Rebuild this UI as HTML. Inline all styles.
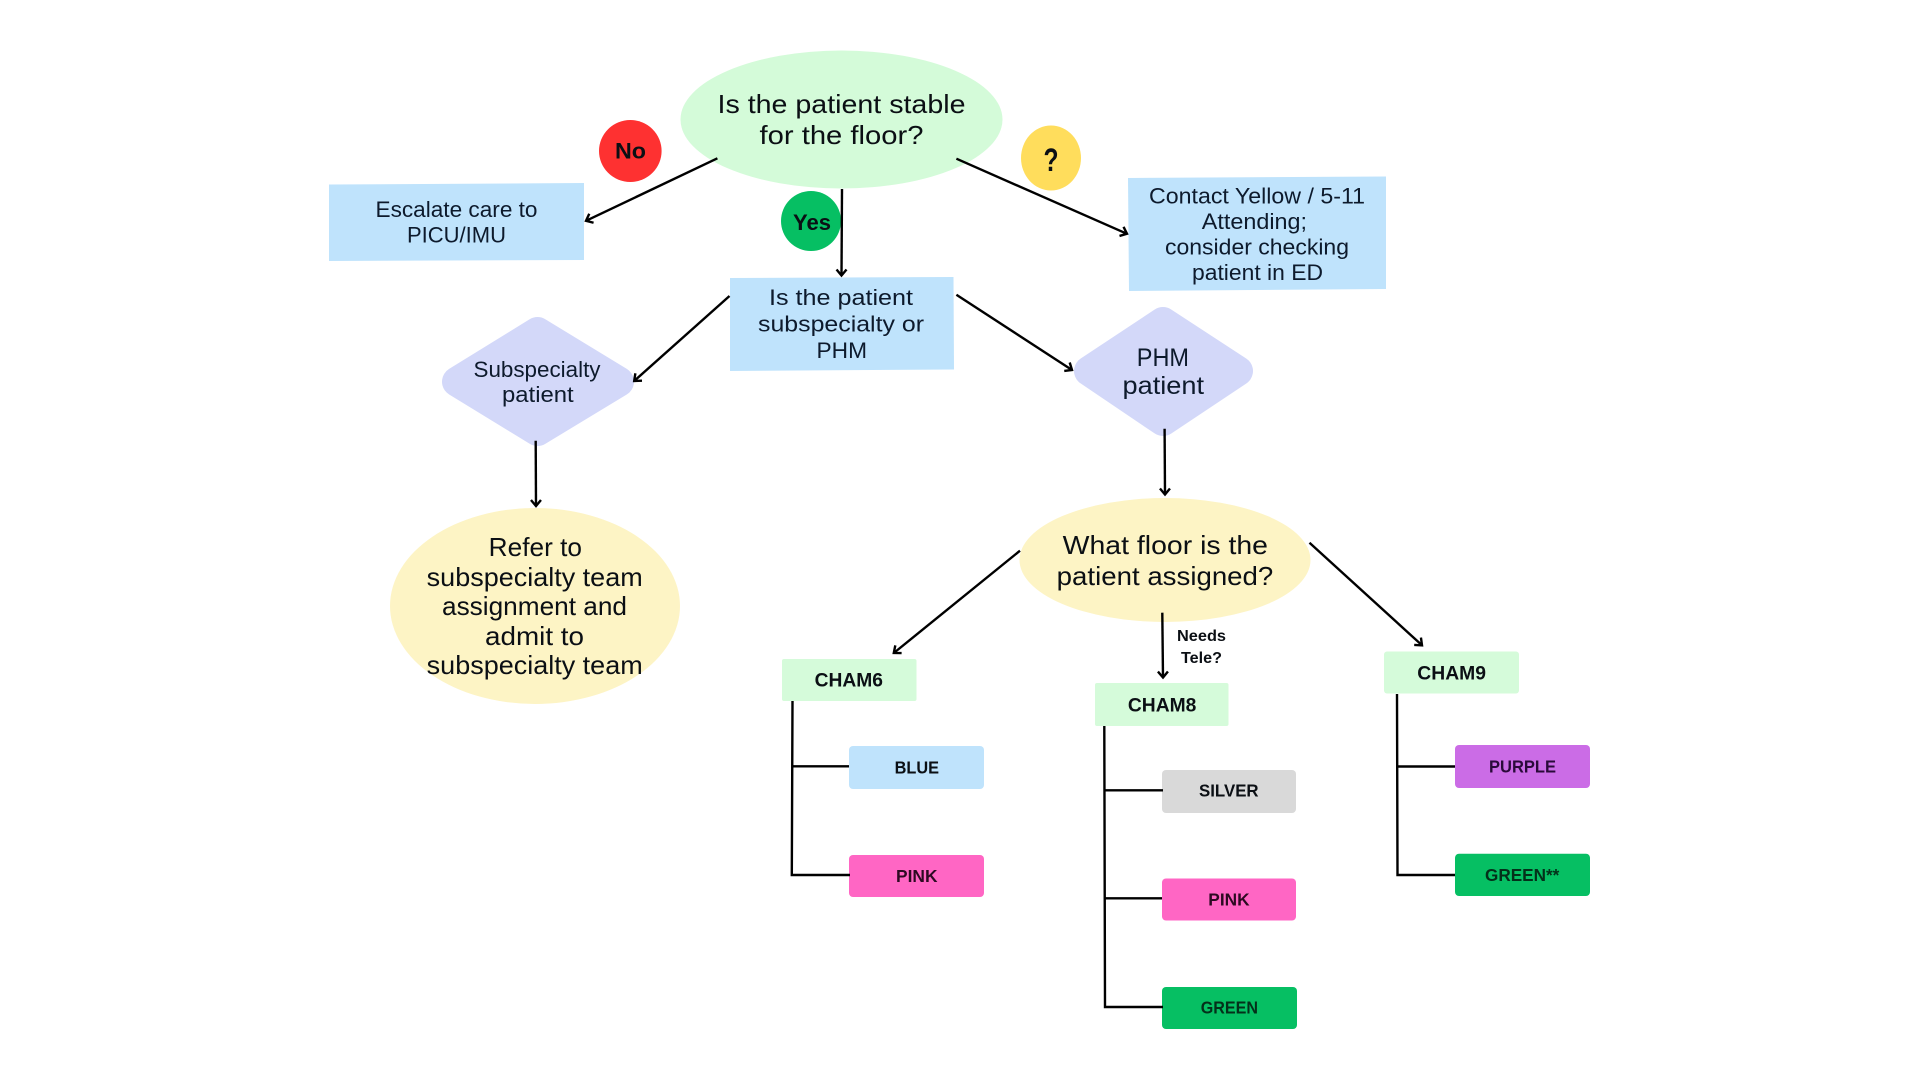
<!DOCTYPE html>
<html>
<head>
<meta charset="utf-8">
<title>Patient floor assignment flowchart</title>
<style>
html,body{margin:0;padding:0;background:#fff;width:1920px;height:1080px;overflow:hidden}
svg{display:block}
text{font-family:"Liberation Sans",sans-serif;text-anchor:start;fill:#0b0f14}
.r{font-size:26px}
.m{font-size:22px}
.b{font-weight:bold}
.n{fill:#0d1a2c}
.l{stroke:#000;stroke-width:2.4;fill:none}
.a{stroke:#000;stroke-width:2.4;fill:none;marker-end:url(#h)}
</style>
</head>
<body>
<svg width="1920" height="1080" viewBox="0 0 1920 1080" xmlns="http://www.w3.org/2000/svg">
<defs>
<marker id="h" markerUnits="userSpaceOnUse" markerWidth="14" markerHeight="14" refX="9" refY="6" orient="auto" viewBox="0 0 14 14">
<path d="M3,1 L9,6 L3,11" fill="none" stroke="#000" stroke-width="2.400"/>
</marker>
</defs>
<rect width="1920" height="1080" fill="#fff"/>

<!-- nodes -->
<ellipse cx="841.500" cy="119.500" rx="161" ry="69" fill="#d4fbd9"/>
<ellipse cx="630.300" cy="151" rx="31.300" ry="31" fill="#fe3131"/>
<ellipse cx="811" cy="221" rx="30" ry="30" fill="#06bf63"/>
<ellipse cx="1051" cy="158" rx="30" ry="32.500" fill="#ffdd5c"/>

<polygon points="329,184.500 584,183 584,260 329,261" fill="#bfe3fc"/>
<polygon points="730,278 953.500,277 954,369.500 730,371" fill="#bfe3fc"/>
<polygon points="1128,178 1386,176.500 1386,289 1129,291" fill="#bfe3fc"/>

<polygon points="457,381.700 537.500,332 619,381.700 537.500,431" fill="#d3d8f9" stroke="#d3d8f9" stroke-width="30" stroke-linejoin="round"/>
<polygon points="1089,371 1163,322 1238,371 1163,421" fill="#d3d8f9" stroke="#d3d8f9" stroke-width="30" stroke-linejoin="round"/>

<ellipse cx="535" cy="606" rx="145" ry="98" fill="#fdf4c5"/>
<ellipse cx="1165" cy="560" rx="145.500" ry="62" fill="#fdf4c5"/>

<rect x="782" y="659" width="134.500" height="42" rx="2" fill="#d5fbda"/>
<rect x="1095" y="683" width="133.500" height="43" rx="2" fill="#d5fbda"/>
<rect x="1384" y="651.500" width="135" height="42" rx="3" fill="#d5fbda"/>

<rect x="849" y="746" width="135" height="43" rx="4" fill="#bfe3fc"/>
<rect x="849" y="855" width="135" height="42" rx="4" fill="#ff66c4"/>
<rect x="1162" y="770" width="134" height="43" rx="4" fill="#d9d9d9"/>
<rect x="1162" y="878.500" width="134" height="42" rx="4" fill="#ff66c4"/>
<rect x="1162" y="987" width="135" height="42" rx="4" fill="#06bf63"/>
<rect x="1455" y="745" width="135" height="43" rx="4" fill="#cb6ce6"/>
<rect x="1455" y="853.700" width="135" height="42.300" rx="4" fill="#06bf63"/>

<!-- connectors -->
<line class="a" x1="717.400" y1="158.300" x2="586" y2="220.800"/>
<line class="a" x1="842" y1="189" x2="841.500" y2="275.500"/>
<line class="a" x1="956.400" y1="158.700" x2="1127" y2="233.800"/>
<line class="a" x1="729.500" y1="296" x2="634.200" y2="381"/>
<line class="a" x1="956.400" y1="294.700" x2="1072" y2="370"/>
<line class="a" x1="535.700" y1="440.700" x2="536" y2="506"/>
<line class="a" x1="1164.600" y1="428.700" x2="1165" y2="494.500"/>
<line class="a" x1="1020" y1="550.700" x2="893.800" y2="653"/>
<line class="a" x1="1162.300" y1="612.700" x2="1163" y2="677.500"/>
<line class="a" x1="1309.500" y1="542.700" x2="1422" y2="645.300"/>

<path class="l" d="M792.500,701 L791.800,875 L850,875 M792,766.300 L849,766.300"/>
<path class="l" d="M1104.300,726 L1105,1007 L1163,1007 M1105,790.300 L1163,790.300 M1105,898.300 L1162,898.300"/>
<path class="l" d="M1397,694 L1397.500,875 L1455,875 M1397.500,766.500 L1455,766.500"/>

<!-- labels -->
<text class="r" x="717.500" y="113" textLength="248" lengthAdjust="spacingAndGlyphs">Is the patient stable</text>
<text class="r" x="759.500" y="144" textLength="164" lengthAdjust="spacingAndGlyphs">for the floor?</text>

<text class="b" font-size="22" x="615" y="158.500" textLength="31" lengthAdjust="spacingAndGlyphs">No</text>
<text class="b" font-size="22" x="793" y="230" textLength="38" lengthAdjust="spacingAndGlyphs">Yes</text>
<text class="b" font-size="32" x="1043.500" y="171" textLength="15" lengthAdjust="spacingAndGlyphs">?</text>

<text class="m n" x="375.500" y="217" textLength="162" lengthAdjust="spacingAndGlyphs">Escalate care to</text>
<text class="m n" x="407" y="242.700" textLength="99" lengthAdjust="spacingAndGlyphs">PICU/IMU</text>

<text class="m n" x="769" y="305" textLength="144" lengthAdjust="spacingAndGlyphs">Is the patient</text>
<text class="m n" x="758" y="331.700" textLength="166" lengthAdjust="spacingAndGlyphs">subspecialty or</text>
<text class="m n" x="816.500" y="358" textLength="50.500" lengthAdjust="spacingAndGlyphs">PHM</text>

<text class="m n" x="1149" y="203.700" textLength="216" lengthAdjust="spacingAndGlyphs">Contact Yellow / 5-11</text>
<text class="m n" x="1201.800" y="229" textLength="105.200" lengthAdjust="spacingAndGlyphs">Attending;</text>
<text class="m n" x="1165" y="254.500" textLength="184" lengthAdjust="spacingAndGlyphs">consider checking</text>
<text class="m n" x="1192" y="280" textLength="131" lengthAdjust="spacingAndGlyphs">patient in ED</text>

<text class="m n" x="473.500" y="377" textLength="127" lengthAdjust="spacingAndGlyphs">Subspecialty</text>
<text class="m n" x="502" y="402" textLength="71.700" lengthAdjust="spacingAndGlyphs">patient</text>

<text font-size="25" class="n" x="1136.800" y="366" textLength="52.200" lengthAdjust="spacingAndGlyphs">PHM</text>
<text font-size="25" class="n" x="1122.500" y="394" textLength="81.500" lengthAdjust="spacingAndGlyphs">patient</text>

<text class="r" x="488.700" y="556" textLength="93.300" lengthAdjust="spacingAndGlyphs">Refer to</text>
<text class="r" x="426.700" y="586" textLength="216" lengthAdjust="spacingAndGlyphs">subspecialty team</text>
<text class="r" x="442" y="615" textLength="185" lengthAdjust="spacingAndGlyphs">assignment and</text>
<text class="r" x="485" y="645" textLength="99" lengthAdjust="spacingAndGlyphs">admit to</text>
<text class="r" x="426.700" y="674" textLength="216" lengthAdjust="spacingAndGlyphs">subspecialty team</text>

<text class="r" x="1062.700" y="554" textLength="205.300" lengthAdjust="spacingAndGlyphs">What floor is the</text>
<text class="r" x="1056.700" y="585" textLength="216.600" lengthAdjust="spacingAndGlyphs">patient assigned?</text>

<text class="b" font-size="16" x="1177" y="641" textLength="49" lengthAdjust="spacingAndGlyphs">Needs</text>
<text class="b" font-size="16" x="1181" y="663" textLength="41" lengthAdjust="spacingAndGlyphs">Tele?</text>

<text class="b" font-size="19" x="814.600" y="686.500" textLength="68.400" lengthAdjust="spacingAndGlyphs">CHAM6</text>
<text class="b" font-size="19" x="1127.900" y="711.500" textLength="68.500" lengthAdjust="spacingAndGlyphs">CHAM8</text>
<text class="b" font-size="19" x="1417.300" y="679.500" textLength="68.700" lengthAdjust="spacingAndGlyphs">CHAM9</text>

<text class="b" font-size="17.500" x="894.600" y="773.500" textLength="44.400" lengthAdjust="spacingAndGlyphs">BLUE</text>
<text class="b" font-size="17.500" x="896" y="881.800" textLength="41.500" lengthAdjust="spacingAndGlyphs" style="fill:#2d0a22">PINK</text>
<text class="b" font-size="17.500" x="1199" y="796.500" textLength="59.600" lengthAdjust="spacingAndGlyphs">SILVER</text>
<text class="b" font-size="17.500" x="1208.300" y="905.500" textLength="41.300" lengthAdjust="spacingAndGlyphs" style="fill:#2d0a22">PINK</text>
<text class="b" font-size="17.500" x="1200.700" y="1013.500" textLength="57.300" lengthAdjust="spacingAndGlyphs" style="fill:#04301a">GREEN</text>
<text class="b" font-size="17.500" x="1489" y="772.500" textLength="67" lengthAdjust="spacingAndGlyphs" style="fill:#2a0a3a">PURPLE</text>
<text class="b" font-size="17.500" x="1485" y="880.800" textLength="74.300" lengthAdjust="spacingAndGlyphs" style="fill:#04301a">GREEN**</text>
</svg>
</body>
</html>
